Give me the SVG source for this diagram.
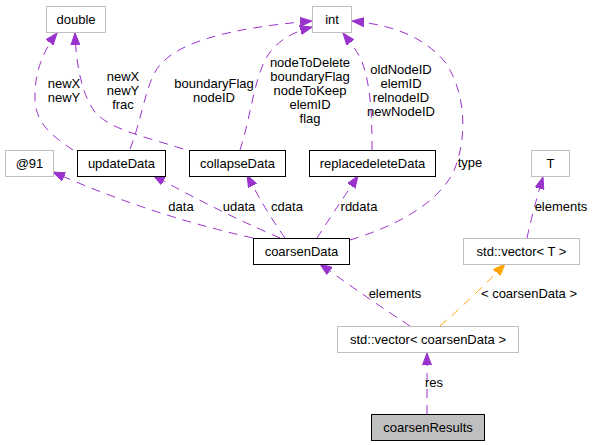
<svg xmlns="http://www.w3.org/2000/svg" width="593" height="445" viewBox="0 0 593 445">
<style>
text{font-family:"Liberation Sans",Arial,Helvetica,sans-serif;font-size:13px;fill:#000;text-anchor:middle}
.n{fill:#fff;stroke:#000;stroke-width:1}
.g{fill:#fff;stroke:#bfbfbf;stroke-width:1}
.h{fill:#bfbfbf;stroke:#000;stroke-width:1}
.e{fill:none;stroke:#9a32cd;stroke-width:1;stroke-dasharray:9,7;marker-end:url(#ap)}
.o{fill:none;stroke:#ffa500;stroke-width:1;stroke-dasharray:9,7;marker-end:url(#ao)}
</style>
<defs>
<marker id="ap" markerWidth="13" markerHeight="10" refX="12" refY="5" orient="auto" markerUnits="userSpaceOnUse"><path d="M0,0.5 L12,5 L0,9.5 z" fill="#9a32cd" stroke="#9a32cd" stroke-width="1"/></marker>
<marker id="ao" markerWidth="13" markerHeight="10" refX="12" refY="5" orient="auto" markerUnits="userSpaceOnUse"><path d="M0,0.5 L12,5 L0,9.5 z" fill="#ffa500" stroke="#ffa500" stroke-width="1"/></marker>
</defs>
<rect width="593" height="445" fill="#fff"/>
<g id="edges">
<path class="e" d="M73,150 C55,138 36,125 35,100 C34,75 42,52 57,33"/>
<text x="64" y="88">newX</text><text x="64" y="102">newY</text>
<path class="e" d="M183,149 C150,138 110,130 95,112 C82,95 76,65 75,33"/>
<text x="123" y="81">newX</text><text x="123" y="95">newY</text><text x="123" y="109">frac</text>
<path class="e" d="M130,149 C140,125 145,90 155,72 C172,42 230,28 312,21"/>
<text x="214" y="88">boundaryFlag</text><text x="214" y="102">nodeID</text>
<path class="e" d="M240,150 C250,120 253,85 265,60 C275,42 290,33 312,27"/>
<text x="310" y="67">nodeToDelete</text><text x="310" y="81">boundaryFlag</text><text x="310" y="95">nodeToKeep</text><text x="310" y="109">elemID</text><text x="310" y="123">flag</text>
<path class="e" d="M372,150 C372,118 371,85 362,62 C357,50 350,42 343,33"/>
<text x="401" y="74">oldNodeID</text><text x="401" y="88">elemID</text><text x="401" y="102">relnodeID</text><text x="401" y="116">newNodeID</text>
<path class="e" d="M350,240 C390,228 440,205 455,168 C468,135 465,90 445,62 C425,38 395,25 352,21"/>
<text x="470" y="167">type</text>
<path class="e" d="M253,238 Q150,215 53,172"/>
<text x="181" y="211">data</text>
<path class="e" d="M280,238 Q215,210 153,175"/>
<text x="239" y="211">udata</text>
<path class="e" d="M285,238 Q265,210 247,175"/>
<text x="287" y="211">cdata</text>
<path class="e" d="M317,238 Q335,210 358,176"/>
<text x="359" y="211">rddata</text>
<path class="e" d="M410,326 Q370,300 320,264"/>
<text x="395" y="298">elements</text>
<path class="o" d="M440,326 Q470,300 505,264"/>
<text x="529" y="298">&lt; coarsenData &gt;</text>
<path class="e" d="M527,238 Q533,210 543,177"/>
<text x="561" y="211">elements</text>
<path class="e" d="M427,414 L427,353"/>
<text x="434" y="387">res</text>
</g>
<g id="double"><rect class="g" x="46.5" y="6.5" width="59" height="26"/><text x="76" y="24">double</text></g>
<g id="int"><rect class="g" x="312.5" y="6.5" width="39" height="26"/><text x="332" y="24">int</text></g>
<g id="at91"><rect class="g" x="5.5" y="150.5" width="48" height="26"/><text x="29.5" y="168">@91</text></g>
<g id="updateData"><rect class="n" x="77.5" y="150.5" width="88" height="26"/><text x="121.5" y="168">updateData</text></g>
<g id="collapseData"><rect class="n" x="189.5" y="150.5" width="96" height="26"/><text x="237.5" y="168">collapseData</text></g>
<g id="replacedeleteData"><rect class="n" x="309.5" y="150.5" width="126" height="26"/><text x="372.5" y="168">replacedeleteData</text></g>
<g id="T"><rect class="g" x="531.5" y="150.5" width="38" height="26"/><text x="550.5" y="168">T</text></g>
<g id="coarsenData"><rect class="n" x="253.5" y="238.5" width="96" height="26"/><text x="301.5" y="256">coarsenData</text></g>
<g id="vectorT"><rect class="g" x="463.5" y="238.5" width="116" height="26"/><text x="521.5" y="256">std::vector&lt; T &gt;</text></g>
<g id="vectorCoarsenData"><rect class="g" x="337.5" y="326.5" width="181" height="26"/><text x="428" y="344">std::vector&lt; coarsenData &gt;</text></g>
<g id="coarsenResults"><rect class="h" x="371.5" y="414.5" width="113" height="26"/><text x="428" y="432">coarsenResults</text></g>
</svg>
